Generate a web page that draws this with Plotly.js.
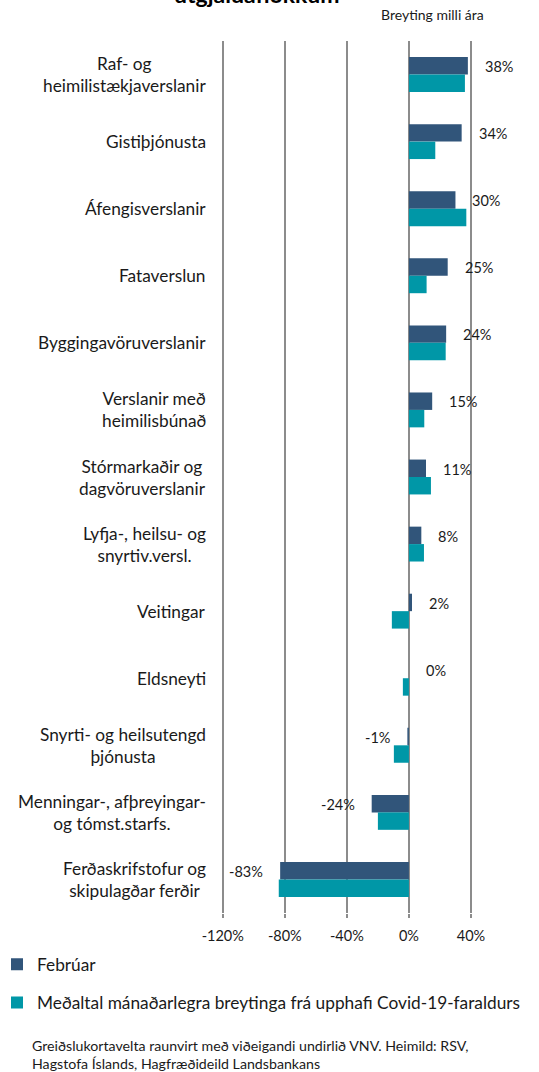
<!DOCTYPE html>
<html>
<head>
<meta charset="utf-8">
<script src="https://cdn.plot.ly/plotly-3.0.1.min.js"></script>
<style>html,body{margin:0;padding:0;background:#fff;}#chart{width:539px;height:1072px;}</style>
</head>
<body>
<div id="chart"></div>
<script>
const categories = [
  "Raf- og<br>heimilistækjaverslanir",
  "Gistiþjónusta",
  "Áfengisverslanir",
  "Fataverslun",
  "Byggingavöruverslanir",
  "Verslanir með<br>heimilisbúnað",
  "Stórmarkaðir og<br>dagvöruverslanir",
  "Lyfja-, heilsu- og<br>snyrtiv.versl.",
  "Veitingar",
  "Eldsneyti",
  "Snyrti- og heilsutengd<br>þjónusta",
  "Menningar-, afþreyingar-<br>og tómst.starfs.",
  "Ferðaskrifstofur og<br>skipulagðar ferðir"
];
const febValues = [38, 34, 30, 25, 24, 15, 11, 8, 2, 0, -1, -24, -83];
const avgValues = [36.1, 17.0, 37.0, 11.4, 23.7, 9.9, 14.2, 9.7, -11.0, -3.9, -9.7, -20.0, -83.9];
const seriesNames = ["Febrúar", "Meðaltal mánaðarlegra breytinga frá upphafi Covid-19-faraldurs"];
const tickValues = [-120, -80, -40, 0, 40];
const tickLabels = ["-120%", "-80%", "-40%", "0%", "40%"];
const titleText = "útgjaldaflokkum";
const subtitleText = "Breyting milli ára";
const noteText = "Greiðslukortavelta raunvirt með viðeigandi undirlið VNV. Heimild: RSV,<br>Hagstofa Íslands, Hagfræðideild Landsbankans";

const FONT = "Lato, 'Open Sans', sans-serif";
const TXT = "#1a1a1a";

const traces = [
  {type: "bar", orientation: "h", name: seriesNames[0], x: febValues, y: categories,
   marker: {color: "#31557a", line: {width: 0}}, legendgroup: "a", hoverinfo: "x+y"},
  {type: "bar", orientation: "h", name: seriesNames[1], x: avgValues, y: categories,
   marker: {color: "#0097a7", line: {width: 0}}, legendgroup: "b", hoverinfo: "x+y"}
];

const annotations = [];
categories.forEach((c, i) => {
  annotations.push({xref: "paper", x: 0, yref: "y", y: c, text: c, showarrow: false,
    xanchor: "right", yanchor: "middle", align: "center", xshift: -7,
    font: {family: FONT, size: 17.3, color: TXT}});
  const v = febValues[i];
  annotations.push({xref: "x", x: v, yref: "y", y: c, text: v + "%", showarrow: false,
    xanchor: v >= 0 ? "left" : "right", yanchor: "middle", xshift: v >= 0 ? 15 : -15, yshift: 8,
    font: {family: FONT, size: 14.5, color: TXT}});
});
annotations.push({xref: "paper", x: (257 - 215) / 287, xanchor: "center", yref: "paper", y: 1, yanchor: "bottom", yshift: 31,
  text: "<b>" + titleText + "</b>", showarrow: false, font: {family: FONT, size: 23, color: "#000"}});
annotations.push({xref: "paper", x: (432 - 215) / 287, xanchor: "center", yref: "paper", y: 1, yanchor: "middle", yshift: 27,
  text: subtitleText, showarrow: false, font: {family: FONT, size: 14, color: TXT}});
annotations.push({xref: "paper", x: (30 - 215) / 287, xanchor: "left", yref: "paper", y: (913.6 - 1036) / 872.5, yanchor: "top",
  text: noteText, align: "left", showarrow: false, font: {family: FONT, size: 14.2, color: TXT}});

const layout = {
  width: 539, height: 1072,
  margin: {l: 215, r: 37, t: 41, b: 159, autoexpand: false},
  paper_bgcolor: "#fff", plot_bgcolor: "#fff",
  barmode: "group", bargap: 0.48, bargroupgap: 0,
  font: {family: FONT, color: TXT},
  xaxis: {range: [-125, 60], tickvals: tickValues, ticktext: tickLabels,
    showgrid: true, gridcolor: "#8c8c8c", gridwidth: 1.5,
    zeroline: true, zerolinecolor: "#8c8c8c", zerolinewidth: 1.5,
    ticks: "outside", ticklen: 4, tickcolor: "#8c8c8c", tickwidth: 1.5,
    ticklabelstandoff: 6, showline: false,
    tickfont: {family: FONT, size: 14.5, color: TXT}, fixedrange: true},
  yaxis: {type: "category", autorange: "reversed", showticklabels: false, showgrid: false,
    zeroline: false, showline: false, ticks: "", fixedrange: true},
  showlegend: true,
  legend: {orientation: "v", x: (-3 - 215) / 287, xanchor: "left", y: (913.6 - 947) / 872.5, yanchor: "top",
    traceorder: "grouped", tracegroupgap: 13, font: {family: FONT, size: 17.3, color: TXT},
    bgcolor: "rgba(0,0,0,0)", itemwidth: 30},
  annotations: annotations
};

Plotly.newPlot("chart", traces, layout, {displayModeBar: false, staticPlot: true});
</script>
</body>
</html>
